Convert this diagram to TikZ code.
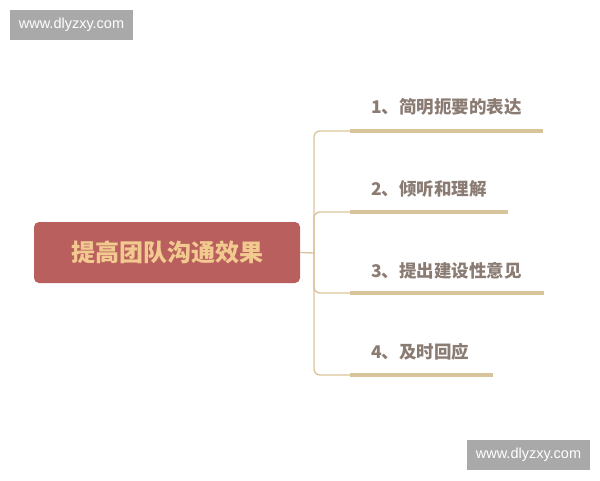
\documentclass[tikz,border=0pt]{standalone}
\usepackage{fontspec}
\setmainfont{Liberation Sans}
\newfontfamily\cjk{Noto Sans CJK SC}
\definecolor{rootred}{HTML}{B95F5E}
\definecolor{roottext}{HTML}{F2C98F}
\definecolor{branchtan}{HTML}{D8C49A}
\definecolor{labelgray}{HTML}{8A7B73}
\definecolor{markgray}{HTML}{A9A9A9}
\tikzset{
  root/.style={draw=none, fill=rootred, rounded corners=5pt, minimum width=266pt,
    minimum height=61pt, text=roottext, font=\cjk\bfseries\fontsize{24}{24}\selectfont},
  leaf/.style={anchor=west, inner sep=0pt, text=labelgray, font=\cjk\bfseries\fontsize{17.5}{17.5}\selectfont},
  thinline/.style={draw=branchtan, line width=1.3pt, rounded corners=6pt},
  thickline/.style={draw=branchtan, line width=3.2pt},
  watermark/.style={fill=markgray, text=white, minimum width=123pt, minimum height=30pt,
    inner sep=0pt, font=\fontsize{14.5}{14.5}\selectfont}
}
\begin{document}
\begin{tikzpicture}[x=1pt, y=-1pt]
  \useasboundingbox (0,0) rectangle (600,480);
  \node[watermark] (mark1) at (71.5,25) {www.dlyzxy.com};
  \node[watermark] (mark2) at (528.5,454.5) {www.dlyzxy.com};
  \node[root] (root) at (167,252.5) {提高团队沟通效果};
  \coordinate (hub) at (314,253);
  % branches
  \coordinate (s1) at (350,131); \coordinate (e1) at (543,131);
  \coordinate (s2) at (350,212); \coordinate (e2) at (508,212);
  \coordinate (s3) at (350,293); \coordinate (e3) at (544,293);
  \coordinate (s4) at (350,375); \coordinate (e4) at (493,375);
  \node[leaf] (l1) at (371,107) {1、简明扼要的表达};
  \node[leaf] (l2) at (371,189) {2、倾听和理解};
  \node[leaf] (l3) at (371,271) {3、提出建设性意见};
  \node[leaf] (l4) at (371,352) {4、及时回应};
  \draw[thinline] (root.east) -- (hub);
  \draw[thinline] (hub) |- (s1);
  \draw[thinline] (hub) |- (s2);
  \draw[thinline] (hub) |- (s3);
  \draw[thinline] (hub) |- (s4);
  \path[thickline]
    (s1) edge (e1)
    (s2) edge (e2)
    (s3) edge (e3)
    (s4) edge (e4);
\end{tikzpicture}
\end{document}
